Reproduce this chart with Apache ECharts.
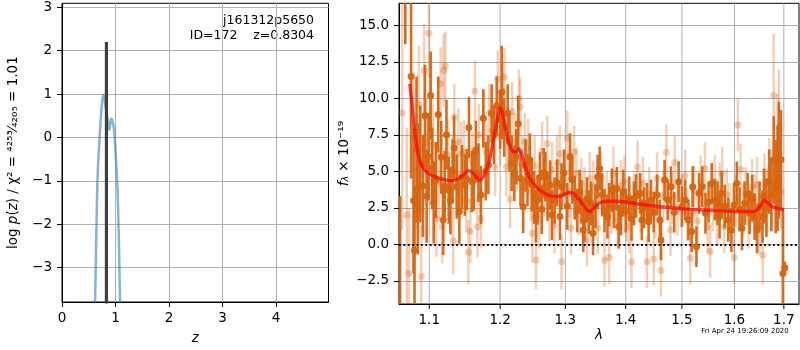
<!DOCTYPE html>
<html><head><meta charset="utf-8">
<script src="https://cdn.jsdelivr.net/npm/echarts@6/dist/echarts.min.js"></script>
<style>html,body{margin:0;padding:0;background:#fff}#c{width:800px;height:350px}</style>
</head><body><div id="c"></div>
<script>
// ---------- left panel: log p(z) ----------
const zGrid = [0.600,0.615,0.630,0.645,0.660,0.680,0.700,0.720,0.740,0.760,0.775,0.790,0.810,0.830,0.850,0.865,0.880,0.890,0.900,0.915,0.930,0.945,0.960,0.980,1.000,1.020,1.040,1.060,1.080,1.100,1.120];
const logPz = [-5.0,-4.0,-3.0,-2.0,-1.1,-0.5,-0.05,0.35,0.7,0.92,0.98,0.9,0.75,0.6,0.45,0.3,0.18,0.2,0.3,0.42,0.43,0.35,0.28,0.08,-0.3,-0.75,-1.3,-2.2,-3.5,-4.6,-5.8];
const zSpike = [0.8304, 0.8304];
const logPzSpike = [-8.0, 2.2];
const zTicks = [0,1,2,3,4];
const logPTicks = [-3,-2,-1,0,1,2,3];
const objName = 'j161312p5650';
const objInfo = 'ID=172    z=0.8304';
const dateText = 'Fri Apr 24 19:26:09 2020';

// ---------- right panel: spectrum ----------
const lamTicks = [1.1,1.2,1.3,1.4,1.5,1.6,1.7];
const fluxTicks = [-2.5,0,2.5,5,7.5,10,12.5,15];

const darkLam = [
1.0614,1.0681,1.0757,1.0790,1.0803,1.0830,1.0847,1.0880,1.0915,1.0942,
1.0965,1.0990,1.1019,1.1040,1.1060,1.1090,1.1122,1.1163,1.1190,1.1210,
1.1235,1.1266,1.1289,1.1320,1.1340,1.1378,1.1414,1.1450,1.1491,1.1520,
1.1550,1.1590,1.1620,1.1648,1.1685,1.1720,1.1754,1.1790,1.1828,1.1876,
1.1910,1.1950,1.2000,1.2024,1.2060,1.2112,1.2140,1.2171,1.2211,1.2240,
1.2270,1.2304,1.2344,1.2380,1.2410,1.2445,1.2477,1.2510,1.2540,1.2564,
1.2600,1.2630,1.2660,1.2686,1.2720,1.2760,1.2790,1.2830,1.2870,1.2915,
1.2940,1.2980,1.3030,1.3075,1.3110,1.3150,1.3190,1.3230,1.3260,1.3289,
1.3310,1.3350,1.3380,1.3419,1.3450,1.3490,1.3526,1.3560,1.3600,1.3640,
1.3690,1.3720,1.3765,1.3800,1.3850,1.3880,1.3920,1.3960,1.4000,1.4060,
1.4100,1.4140,1.4180,1.4250,1.4280,1.4320,1.4370,1.4400,1.4440,1.4490,
1.4550,1.4600,1.4620,1.4685,1.4740,1.4800,1.4860,1.4940,1.5000,1.5060,
1.5120,1.5180,1.5200,1.5270,1.5320,1.5380,1.5440,1.5500,1.5560,1.5620,
1.5670,1.5710,1.5750,1.5810,1.5880,1.5940,1.5990,1.6047,1.6100,1.6148,
1.6200,1.6260,1.6300,1.6351,1.6400,1.6450,1.6500,1.6560,1.6590,1.6640,
1.6696,1.6740,1.6790,1.6830,1.6870,1.6897,1.6940,1.6980,1.7020];
const darkFlux = [
-6.0,21.0,11.5,3.0,-0.4,6.5,3.8,5.5,4.0,8.8,
3.3,6.0,10.2,5.2,2.85,4.4,8.9,5.96,1.67,4.0,
7.5,3.7,3.0,5.0,6.6,3.95,2.24,4.6,4.06,4.45,
8.0,4.3,4.4,6.46,4.9,3.38,8.63,5.0,5.43,8.97,
7.5,9.5,8.52,10.4,8.0,8.97,7.0,5.55,4.86,6.0,
8.26,4.52,2.58,5.4,4.4,5.8,4.06,3.2,1.9,3.04,
4.6,2.4,4.9,4.63,3.3,4.06,2.0,3.0,4.2,1.9,
3.95,4.9,2.6,6.0,4.4,3.2,2.3,3.6,2.9,0.98,
1.67,3.1,2.2,2.8,0.75,2.6,4.63,5.2,3.4,2.3,
1.9,2.7,3.7,2.6,3.8,1.2,2.1,3.6,2.3,3.15,
1.75,2.8,3.3,3.49,1.67,2.5,2.8,1.55,3.04,2.2,
3.38,1.67,0.3,4.4,3.04,3.95,2.2,4.29,2.58,3.04,
1.67,0.87,3.95,-0.16,3.49,3.95,2.13,2.9,4.17,3.04,
2.8,1.9,3.49,2.6,1.67,0.98,2.7,4.17,2.4,1.1,
2.8,3.4,2.2,3.15,1.9,0.98,2.6,1.9,3.3,2.5,
4.3,3.4,5.77,3.95,4.5,5.77,5.8,-2.0,-1.6];
const darkErr = [
9.3,7.3,7.0,5.0,4.4,5.0,4.5,4.0,3.5,3.5,
3.2,3.0,3.0,2.8,2.8,2.6,2.6,2.5,2.4,2.4,
2.4,2.3,2.3,2.2,2.2,2.2,2.2,2.2,2.1,2.1,
2.1,2.1,2.1,2.0,2.0,2.0,2.0,2.0,2.0,2.0,
2.0,2.0,2.0,3.2,2.0,2.0,2.0,1.9,1.9,1.9,
1.9,1.9,1.8,1.8,1.8,1.8,1.8,1.8,1.8,1.7,
1.7,1.7,1.7,1.7,1.7,1.7,1.7,1.6,1.6,1.6,
1.6,1.6,1.6,1.6,1.6,1.5,1.5,1.5,1.5,1.5,
1.5,1.5,1.5,1.5,1.5,1.5,1.5,1.5,1.5,1.5,
1.5,1.5,1.5,1.5,1.5,1.5,1.5,1.5,1.5,1.5,
1.5,1.5,1.5,1.4,1.4,1.4,1.4,1.4,1.4,1.4,
1.4,1.4,1.4,1.4,1.4,1.4,1.4,1.4,1.4,1.4,
1.4,1.4,1.4,1.4,1.4,1.4,1.4,1.4,1.4,1.4,
1.5,1.5,1.5,1.5,1.5,1.5,1.5,1.5,1.5,1.5,
1.5,1.5,1.5,1.6,1.6,1.6,1.7,1.8,1.9,2.0,
2.2,2.5,3.0,3.2,3.6,4.0,3.4,4.5,0.4];

const lightLam = [
1.0640,1.0700,1.0730,1.0790,1.0820,1.0860,1.0892,1.0932,1.0960,1.0996,
1.1030,1.1050,1.1095,1.1130,1.1155,1.1175,1.1195,1.1220,1.1260,1.1300,
1.1330,1.1343,1.1370,1.1400,1.1440,1.1480,1.1510,1.1540,1.1570,1.1600,
1.1634,1.1670,1.1690,1.1720,1.1761,1.1800,1.1840,1.1880,1.1925,1.1965,
1.2000,1.2035,1.2064,1.2090,1.2120,1.2147,1.2180,1.2220,1.2250,1.2280,
1.2300,1.2330,1.2370,1.2420,1.2460,1.2485,1.2520,1.2540,1.2590,1.2635,
1.2670,1.2715,1.2750,1.2790,1.2830,1.2870,1.2915,1.2940,1.2980,1.3031,
1.3060,1.3090,1.3140,1.3180,1.3220,1.3260,1.3310,1.3350,1.3395,1.3430,
1.3455,1.3500,1.3530,1.3580,1.3640,1.3680,1.3720,1.3760,1.3790,1.3830,
1.3870,1.3920,1.3980,1.4020,1.4060,1.4100,1.4150,1.4205,1.4260,1.4300,
1.4370,1.4410,1.4490,1.4520,1.4550,1.4620,1.4660,1.4715,1.4790,1.4830,
1.4870,1.4920,1.5000,1.5060,1.5100,1.5155,1.5200,1.5230,1.5290,1.5350,
1.5430,1.5480,1.5530,1.5580,1.5620,1.5660,1.5710,1.5760,1.5800,1.5850,
1.5900,1.5995,1.6030,1.6067,1.6120,1.6170,1.6220,1.6280,1.6351,1.6400,
1.6450,1.6500,1.6565,1.6600,1.6650,1.6700,1.6750,1.6790,1.6870,1.6900,
1.6945];
const lightFlux = [
9.0,2.0,-2.0,7.3,5.0,9.6,-2.2,11.9,7.0,14.45,
5.5,6.8,1.75,4.2,11.0,1.2,11.9,12.2,6.1,3.0,
0.25,8.7,4.8,7.0,6.2,6.3,3.0,-0.55,0.9,5.6,
10.5,1.2,7.5,1.75,8.6,6.3,9.0,7.8,5.3,11.3,
7.4,10.5,11.45,5.3,7.2,3.1,9.1,7.0,5.6,10.0,
9.4,5.4,7.0,6.6,3.6,0.75,5.4,-1.07,1.7,6.4,
3.8,6.9,2.1,5.1,1.3,5.6,6.2,-1.2,4.5,7.26,
3.6,1.1,6.3,4.86,2.4,4.1,3.5,0.3,4.5,1.9,
3.95,3.0,1.1,4.6,-1.1,3.2,-0.9,2.5,4.86,3.3,
1.6,4.0,4.3,2.0,1.2,-1.2,3.1,5.3,2.6,4.2,
-1.2,3.5,-1.0,2.2,4.5,-1.8,3.3,6.3,1.0,3.2,
5.6,2.4,3.0,4.7,2.0,-0.95,2.2,3.6,1.6,4.3,
5.2,1.2,-0.5,2.7,4.3,1.8,3.8,4.86,1.2,3.4,
2.4,-0.9,3.0,8.17,5.1,2.3,3.5,1.5,3.95,2.9,
4.1,1.3,-0.75,4.1,3.0,4.9,3.7,10.2,6.3,8.0,
3.6];
const lightErr = [
8.0,6.0,4.5,4.5,4.0,4.0,3.5,3.2,3.0,3.0,
2.8,2.8,2.6,2.5,2.5,2.5,2.5,2.4,2.4,2.4,
2.3,2.3,2.3,2.3,2.2,2.2,2.2,2.2,2.2,2.1,
2.1,2.1,2.1,2.0,2.0,2.0,2.0,2.0,2.0,2.0,
2.0,2.0,2.0,2.0,2.0,2.0,2.0,2.0,2.0,2.0,
2.0,2.0,2.0,2.0,2.0,2.0,2.0,2.0,2.0,2.0,
1.9,1.9,1.9,1.9,1.9,1.9,1.9,1.9,1.9,1.9,
1.8,1.8,1.8,1.8,1.8,1.8,1.8,1.8,1.8,1.8,
1.8,1.8,1.8,1.8,1.8,1.8,1.8,1.8,1.8,1.8,
1.8,1.8,1.8,1.8,1.8,1.8,1.8,1.8,1.8,1.8,
1.8,1.8,1.8,1.8,1.8,1.8,1.8,1.9,1.8,1.8,
1.8,1.8,1.8,1.8,1.8,1.8,1.8,1.8,1.8,1.8,
1.8,1.8,1.8,1.8,1.8,1.8,1.8,1.8,1.8,1.8,
1.8,1.8,1.8,1.8,1.8,1.8,1.8,1.8,1.9,1.9,
1.9,2.0,2.0,2.1,2.2,2.4,2.8,4.2,4.0,4.0,
2.5];

const modelLam = [1.074,1.077,1.080,1.083,1.087,1.092,1.098,1.105,1.115,1.125,1.133,1.140,1.147,1.154,1.160,1.166,1.170,1.175,1.180,1.184,1.188,1.192,1.196,1.200,1.203,1.207,1.212,1.218,1.223,1.228,1.232,1.237,1.244,1.252,1.262,1.272,1.282,1.292,1.300,1.306,1.313,1.320,1.327,1.334,1.339,1.344,1.350,1.358,1.370,1.385,1.400,1.420,1.450,1.480,1.500,1.530,1.560,1.590,1.620,1.636,1.645,1.652,1.659,1.666,1.675,1.688,1.700];
const modelFlux = [11.0,9.6,8.0,6.8,5.8,5.2,4.9,4.7,4.5,4.38,4.36,4.5,4.75,5.05,4.9,4.6,4.35,4.6,5.1,5.7,6.6,7.6,8.6,9.35,9.1,8.1,7.1,6.4,6.3,6.55,6.2,5.4,4.6,4.05,3.65,3.4,3.28,3.3,3.45,3.55,3.5,3.2,2.8,2.4,2.25,2.35,2.65,2.88,2.95,2.95,2.9,2.78,2.62,2.5,2.43,2.36,2.31,2.27,2.24,2.24,2.35,2.65,3.02,2.85,2.6,2.45,2.35];

// ---------- styling ----------
const FONT = '"DejaVu Sans"';
const ORANGE = 'rgb(215,100,15)';
const minus = s => String(s).replace('-', '\u2212');
const L = {xMin:0, xMax:4.98, yMin:-3.79, yMax:3.09};
const R = {xMin:1.0599, xMax:1.7319, yMin:-4.09, yMax:16.51};

function errSeries(lam, flux, err, color, opacity, width, z) {
  return {
    type:'custom', xAxisIndex:1, yAxisIndex:1, z:z, silent:true, clip:true,
    data: lam.map((l,i)=>[l, flux[i]-err[i], flux[i]+err[i]]),
    encode:{x:0, y:[1,2]},
    renderItem:(params, api)=>{
      const p1 = api.coord([api.value(0), api.value(1)]);
      const p2 = api.coord([api.value(0), api.value(2)]);
      return {type:'line', shape:{x1:p1[0],y1:p1[1],x2:p2[0],y2:p2[1]},
        style:{stroke:color, lineWidth:width, opacity:opacity}};
    }
  };
}

const chart = echarts.init(document.getElementById('c'), null, {renderer:'canvas'});
const axisCommon = {
  axisLine:{show:true, onZero:false, lineStyle:{color:'#000', width:1}},
  axisTick:{show:true, length:5, lineStyle:{color:'#000', width:1}},
  splitLine:{show:true, lineStyle:{color:'#b0b0b0', width:1}},
  axisLabel:{color:'#000', fontSize:13.5, fontFamily:FONT}
};
function mk(base, extra){ return Object.assign({}, base, extra); }

const option = {
  animation:false,
  backgroundColor:'#fff',
  grid:[
    {left:62, top:3.3, width:266.5, height:300.7, show:true, borderColor:'#000', borderWidth:1, backgroundColor:'transparent'},
    {left:399, top:3.3, width:400, height:300.7, show:true, borderColor:'#000', borderWidth:1, backgroundColor:'transparent'}
  ],
  xAxis:[
    {type:'value', gridIndex:0, min:L.xMin, max:L.xMax,
      axisLine:axisCommon.axisLine,
      axisTick:mk(axisCommon.axisTick,{customValues:zTicks}),
      splitLine:axisCommon.splitLine,
      axisLabel:mk(axisCommon.axisLabel,{customValues:zTicks, margin:9, formatter:v=>minus(v)}),
      name:'z', nameLocation:'middle', nameGap:29,
      nameTextStyle:{color:'#000', fontSize:13.5, fontFamily:FONT, fontStyle:'italic'}},
    {type:'log', logBase:10, gridIndex:1, min:R.xMin, max:R.xMax,
      axisLine:axisCommon.axisLine, axisTick:{show:false}, axisLabel:{show:false},
      splitLine:{show:false}, minorTick:{show:false}, minorSplitLine:{show:false},
      name:'λ', nameLocation:'middle', nameGap:24,
      nameTextStyle:{color:'#000', fontSize:13.5, fontFamily:FONT, fontStyle:'italic'}}
  ],
  yAxis:[
    {type:'value', gridIndex:0, min:L.yMin, max:L.yMax,
      axisLine:axisCommon.axisLine,
      axisTick:mk(axisCommon.axisTick,{customValues:logPTicks}),
      splitLine:axisCommon.splitLine,
      axisLabel:mk(axisCommon.axisLabel,{customValues:logPTicks, margin:10, formatter:v=>minus(v)}),
      name:'{n|log }{i|p}{n|(}{i|z}{n|) / χ² = ⁴²⁵³⁄₄₂₀₅ = 1.01}', nameLocation:'middle', nameGap:42,
      nameTextStyle:{color:'#000', fontSize:13.5, fontFamily:FONT,
        rich:{n:{fontSize:13.5, fontFamily:FONT, color:'#000'}, i:{fontSize:13.5, fontFamily:FONT, fontStyle:'italic', color:'#000'}}}},
    {type:'value', gridIndex:1, min:R.yMin, max:R.yMax,
      axisLine:axisCommon.axisLine,
      axisTick:mk(axisCommon.axisTick,{customValues:fluxTicks}),
      splitLine:axisCommon.splitLine,
      axisLabel:mk(axisCommon.axisLabel,{customValues:fluxTicks, margin:10, formatter:v=>minus(Number(v).toFixed(1))}),
      name:'{i|f}{s|λ}{n| × 10⁻¹⁹}', nameLocation:'middle', nameGap:48,
      nameTextStyle:{color:'#000', fontSize:13.5, fontFamily:FONT,
        rich:{n:{fontSize:13.5, fontFamily:FONT, color:'#000'},
              i:{fontSize:13.5, fontFamily:FONT, fontStyle:'italic', color:'#000'},
              s:{fontSize:9.5, fontFamily:FONT, fontStyle:'italic', color:'#000', verticalAlign:'bottom'}}}}
  ],
  series:[
    {type:'line', xAxisIndex:0, yAxisIndex:0, z:3, silent:true, showSymbol:false, clip:true, smooth:0.3,
      data:zGrid.map((z,i)=>[z, logPz[i]]),
      lineStyle:{color:'#1f77b4', width:2.5, opacity:0.55}},
    {type:'line', xAxisIndex:0, yAxisIndex:0, z:4, silent:true, showSymbol:false, clip:true,
      data:zSpike.map((z,i)=>[z, logPzSpike[i]]),
      lineStyle:{color:'#3f3f3f', width:3.2, cap:'butt'}},
    {type:'custom', xAxisIndex:1, yAxisIndex:1, z:1, silent:true, clip:false,
      data:lamTicks.map(v=>[v, 0]), encode:{x:0, y:1},
      renderItem:(params, api)=>{
        const v = api.value(0);
        const b = api.coord([v, R.yMin]);
        const t = api.coord([v, R.yMax]);
        return {type:'group', children:[
          {type:'line', shape:{x1:b[0],y1:b[1],x2:t[0],y2:t[1]}, style:{stroke:'#b0b0b0', lineWidth:1}},
          {type:'line', shape:{x1:b[0],y1:b[1],x2:b[0],y2:b[1]+5}, style:{stroke:'#000', lineWidth:1}},
          {type:'text', x:b[0], y:b[1]+9.5, style:{text:v.toFixed(1), fill:'#000', font:'13.5px '+FONT, align:'center', verticalAlign:'top'}}
        ]};
      }},
    errSeries(lightLam, lightFlux, lightErr, ORANGE, 0.3, 2.5, 2),
    {type:'scatter', xAxisIndex:1, yAxisIndex:1, z:3, silent:true, clip:true, symbolSize:7,
      data:lightLam.map((l,i)=>[l, lightFlux[i]]),
      itemStyle:{color:ORANGE, opacity:0.3}},
    errSeries(darkLam, darkFlux, darkErr, ORANGE, 0.95, 2.6, 4),
    {type:'scatter', xAxisIndex:1, yAxisIndex:1, z:5, silent:true, clip:true, symbolSize:7,
      data:darkLam.map((l,i)=>[l, darkFlux[i]]),
      itemStyle:{color:ORANGE, opacity:0.95}},
    {type:'line', xAxisIndex:1, yAxisIndex:1, z:6, silent:true, showSymbol:false, clip:true, smooth:0.25,
      data:modelLam.map((l,i)=>[l, modelFlux[i]]),
      lineStyle:{color:'#ff0000', width:3.4, opacity:0.7},
      markLine:{silent:true, symbol:['none','none'], label:{show:false},
        lineStyle:{color:'#000', width:1.9, type:[1.8,2.6], opacity:1},
        data:[{yAxis:0}]}}
  ],
  graphic:[
    {type:'text', x:314, y:21, silent:true, style:{text:objName, font:'12.5px '+FONT, fill:'#000', align:'right', verticalAlign:'middle'}},
    {type:'text', x:314, y:36, silent:true, style:{text:objInfo, font:'12.5px '+FONT, fill:'#000', align:'right', verticalAlign:'middle'}},
    {type:'text', x:745, y:331, silent:true, style:{text:dateText, font:'7px '+FONT, fill:'#000', align:'center', verticalAlign:'middle'}}
  ]
};
chart.setOption(option);
</script>
</body></html>
